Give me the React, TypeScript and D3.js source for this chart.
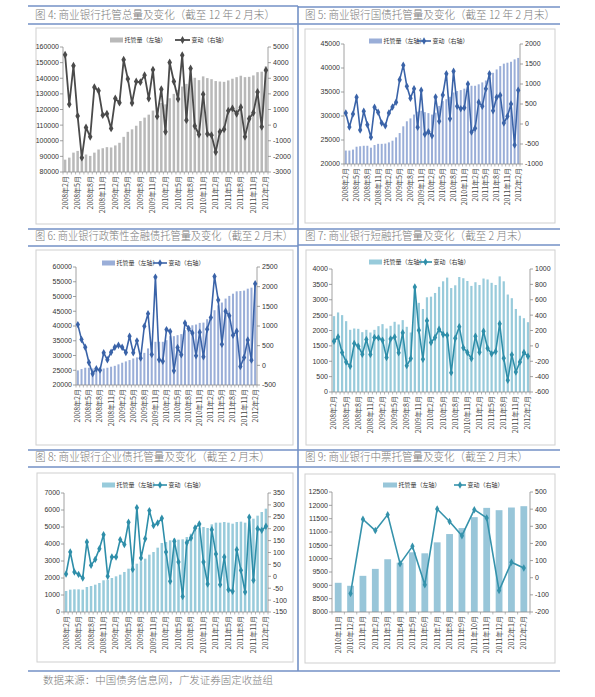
import React from 'react';
import * as d3 from 'd3';

const CJK = '"Noto Sans CJK SC", sans-serif';
const NUM = '"Liberation Sans", Arial, sans-serif';

// categories: monthly 2008-02 .. 2012-02
const monthCats: string[] = d3.range(49).map((i) => `${2008 + Math.floor((1 + i) / 12)}年${((1 + i) % 12) + 1}月`);
const zhongpiaoCats: string[] = [
  '2010年11月', '2010年12月', '2011年1月', '2011年2月', '2011年3月', '2011年4月', '2011年5月', '2011年6月',
  '2011年7月', '2011年8月', '2011年9月', '2011年10月', '2011年11月', '2011年12月', '2012年1月', '2012年2月',
];

// 图4 总量
const totalStock = [87900, 89200, 92400, 93500, 93200, 91200, 90300, 92400, 94400, 95200, 95900, 95700, 97000, 98700, 102500, 105700, 107300, 109600, 112600, 114800, 116700, 119300, 121200, 124200, 123300, 127200, 130000, 132600, 134700, 136400, 139400, 140300, 138800, 141200, 140100, 139400, 138200, 137900, 137700, 138600, 139700, 140700, 141600, 140700, 140900, 141800, 143900, 144200, 147600];
const totalChange = [4500, 1330, 3800, 580, -2080, -150, -750, 2420, 2200, 640, 730, -210, 1700, 1440, 4180, 2960, 1420, 2790, 2750, 3200, 1700, 3540, 560, 2300, -430, 4010, 2790, 1670, 4480, 320, 3630, -60, -600, 1970, -560, -640, -1720, -430, -260, 920, 1070, 730, 1140, -750, 410, 790, 2120, -110, 3520];

// 图5 国债
const govStock = [22800, 22800, 23000, 23600, 23700, 23800, 23800, 23400, 23950, 24200, 24200, 24250, 24500, 24850, 25550, 26450, 27850, 28900, 29500, 30300, 30900, 31100, 30800, 30600, 30300, 30700, 32100, 33100, 33500, 34000, 34900, 35200, 35400, 35700, 36000, 36300, 36300, 36600, 37000, 37400, 38200, 39000, 39700, 40400, 40900, 41100, 41300, 41800, 42100];
const govChange = [275, -75, 250, 667, -150, 317, -17, -333, 417, 292, 25, -42, 275, 425, 542, 1108, 1467, 942, 642, 883, -83, 842, -258, -192, -292, 675, 67, 725, 1258, 133, 1317, 442, 383, 408, 1000, -200, -108, 542, 442, 883, 1258, 333, 667, 717, 25, 192, 500, -525, 842];

// 图6 政策性金融债
const policyStock = [24950, 25400, 25850, 25850, 25600, 25600, 25600, 25600, 25850, 26200, 26500, 27000, 27550, 28000, 28450, 29000, 29350, 30150, 30900, 32400, 33500, 34650, 34650, 34650, 35200, 36550, 36550, 36900, 37250, 38600, 39700, 40250, 40500, 41050, 41150, 42300, 43400, 45350, 47000, 47950, 49300, 50200, 50950, 51750, 51850, 52000, 52650, 53000, 53800];
const policyChange = [1035, 655, 460, 73, -215, -88, -122, 318, 140, 335, 460, 512, 460, 326, 740, 318, 622, 183, 993, 1314, 275, 2243, 140, 106, 908, 858, -139, 452, 267, 1077, 934, 824, 242, 841, 216, 917, 1213, 2260, 1660, 537, 1373, 1263, 765, 866, -29, 199, 647, 132, 2074];

// 图7 短融
const cpStock = [2467, 2587, 2500, 2304, 2022, 2065, 2054, 1946, 2022, 1935, 2022, 2141, 2207, 2065, 2152, 2283, 2196, 2337, 2120, 1935, 3440, 2900, 2700, 3080, 3100, 3220, 3420, 3600, 3720, 3380, 3470, 3740, 3700, 3610, 3450, 3570, 3480, 3690, 3660, 3550, 3480, 3760, 3600, 3170, 3050, 2700, 2480, 2400, 2270];
const cpChange = [61, 117, -87, -209, -265, 30, -4, -109, 83, -113, 109, 104, 74, -152, 91, 117, -91, 170, -257, -165, 765, 204, -174, 326, 43, 109, 217, 148, 139, -348, 100, 248, -26, -87, -165, 126, -83, 191, -30, -104, -74, 287, -161, -448, -117, -339, -209, -87, -135];

// 图8 企业债
const corpStock = [1235, 1314, 1333, 1333, 1314, 1470, 1530, 1608, 1706, 1863, 1902, 2000, 2098, 2196, 2353, 2549, 2706, 2843, 2980, 3137, 3373, 3529, 3784, 4059, 4118, 4216, 4314, 4255, 4275, 4412, 4608, 4804, 4941, 5000, 4941, 5157, 5255, 5255, 5294, 5255, 5196, 5294, 5314, 5255, 5392, 5490, 5667, 5882, 6078];
const corpChange = [10, 102, 18, 8, -7, 144, 46, 71, 116, 175, 0, 81, 81, 154, 134, 227, 29, 288, 77, 158, 276, 213, 224, 244, 102, -21, 147, 60, -85, 141, 161, 203, 220, 60, -32, 196, 94, -35, 81, -56, -63, 112, 25, -66, 248, -17, 200, 193, 210];

// 图9 中票
const mtnStock = [9095, 8983, 9356, 9617, 9978, 9850, 10239, 10201, 10612, 10923, 11147, 11557, 11905, 11818, 11918, 11968];
const mtnChange: (number | null)[] = [null, -92, 341, 275, 368, 82, 183, -41, 401, 328, 245, 397, 349, -75, 90, 57];

type Cfg = {
  title: string; tx: number; ty: number; tlen: number;
  box: [number, number, number, number];
  plot: { l: number; r: number; t: number; b: number };
  cats: string[]; every: number;
  bars: number[]; line: (number | null)[];
  ld: [number, number]; ls: number; rd: [number, number]; rs: number;
  barColor: string; lineColor: string; lw: number;
  legY: number; sw: [number, number]; ln: [number, number]; pad: number; msize: number;
};

const cfgs: Cfg[] = [
  {
    title: '图 4:  商业银行托管总量及变化（截至 12 年 2 月末）', tx: 35, ty: 19, tlen: 240,
    box: [36, 28, 257, 196], plot: { l: 63, r: 268, t: 47, b: 172 }, cats: monthCats, every: 3,
    bars: totalStock, line: totalChange, ld: [80000, 160000], ls: 10000, rd: [-3000, 5000], rs: 1000,
    barColor: '#b9b9b9', lineColor: '#4a4a4a', lw: 1.8, legY: 40, sw: [110, 123], ln: [175, 190], pad: 0.4, msize: 18,
  },
  {
    title: '图 5:  商业银行国债托管量及变化（截至 12 年 2 月末）', tx: 305, ty: 19, tlen: 250,
    box: [305, 29, 250, 194], plot: { l: 344, r: 520, t: 44, b: 164 }, cats: monthCats, every: 3,
    bars: govStock, line: govChange, ld: [20000, 45000], ls: 5000, rd: [-1000, 2000], rs: 500,
    barColor: '#9aaed8', lineColor: '#3a63a8', lw: 1.6, legY: 41, sw: [369, 382], ln: [417, 431], pad: 0.45, msize: 16,
  },
  {
    title: '图 6:  商业银行政策性金融债托管量及变化（截至 2 月末）', tx: 35, ty: 240, tlen: 258,
    box: [36, 250, 257, 195], plot: { l: 76, r: 257, t: 267, b: 385 }, cats: monthCats, every: 3,
    bars: policyStock, line: policyChange, ld: [20000, 60000], ls: 5000, rd: [-500, 2500], rs: 500,
    barColor: '#9aaed8', lineColor: '#3a63a8', lw: 1.6, legY: 263, sw: [102, 115], ln: [153, 167], pad: 0.45, msize: 16,
  },
  {
    title: '图 7:  商业银行短融托管量及变化（截至 2 月末）', tx: 305, ty: 240, tlen: 223,
    box: [306, 250, 249, 195], plot: { l: 332, r: 530, t: 269, b: 392 }, cats: monthCats, every: 3,
    bars: cpStock, line: cpChange, ld: [0, 4000], ls: 500, rd: [-600, 1000], rs: 200,
    barColor: '#98cbdb', lineColor: '#2e8ea9', lw: 1.6, legY: 262, sw: [369, 382], ln: [419, 432], pad: 0.45, msize: 16,
  },
  {
    title: '图 8:  商业银行企业债托管量及变化（截至 2 月末）', tx: 35, ty: 461, tlen: 235,
    box: [37, 473, 256, 189], plot: { l: 64, r: 268, t: 493, b: 612 }, cats: monthCats, every: 3,
    bars: corpStock, line: corpChange, ld: [0, 7000], ls: 1000, rd: [-150, 350], rs: 50,
    barColor: '#98cbdb', lineColor: '#2e8ea9', lw: 1.6, legY: 485, sw: [102, 115], ln: [153, 167], pad: 0.4, msize: 16,
  },
  {
    title: '图 9:  商业银行中票托管量及变化（截至 2 月末）', tx: 305, ty: 461, tlen: 223,
    box: [305, 474, 250, 189], plot: { l: 332, r: 530, t: 492, b: 612 }, cats: zhongpiaoCats, every: 1,
    bars: mtnStock, line: mtnChange, ld: [8000, 12500], ls: 500, rd: [-200, 500], rs: 100,
    barColor: '#98c6d9', lineColor: '#3592ab', lw: 1.6, legY: 485, sw: [383, 397], ln: [454, 466], pad: 0.45, msize: 16,
  },
];

const Panel: React.FC<{ c: Cfg }> = ({ c }) => {
  const { l, r, t, b } = c.plot;
  const x = d3.scaleBand<number>().domain(d3.range(c.bars.length)).range([l, r]).paddingInner(c.pad).paddingOuter(c.pad / 2);
  const step = x.step();
  const cx = (i: number) => (x(i) as number) + x.bandwidth() / 2;
  const yl = d3.scaleLinear().domain(c.ld).range([b, t]);
  const yr = d3.scaleLinear().domain(c.rd).range([b, t]);
  const lt = d3.range(c.ld[0], c.ld[1] + c.ls / 2, c.ls);
  const rt = d3.range(c.rd[0], c.rd[1] + c.rs / 2, c.rs);
  const lineGen = d3.line<number | null>().defined((d) => d != null).x((_, i) => cx(i)).y((d) => yr(d as number));
  const sym = d3.symbol().type(d3.symbolDiamond).size(c.msize)();
  const axisColor = '#8a8a8a';
  const labelIdx = d3.range(c.cats.length).filter((i) => i % c.every === 0);
  const bounds = d3.range(c.cats.length + 1).map((i) => l + (i * (r - l)) / c.cats.length);
  return (
    <g>
      <rect x={c.box[0]} y={c.box[1]} width={c.box[2]} height={c.box[3]} fill="#fff" stroke="#cfcfcf" strokeWidth={1} />
      <text x={c.tx} y={c.ty} fontFamily={CJK} fontWeight={300} fontSize={11.5} fill="#7a7a7a" textLength={c.tlen} lengthAdjust="spacingAndGlyphs">{c.title}</text>
      {/* bars */}
      {c.bars.map((v, i) => (
        <rect key={'b' + i} x={x(i)} y={yl(v)} width={x.bandwidth()} height={b - yl(v)} fill={c.barColor} />
      ))}
      {/* axes */}
      <line x1={l} x2={l} y1={t} y2={b} stroke={axisColor} strokeWidth={0.8} />
      <line x1={r} x2={r} y1={t} y2={b} stroke={axisColor} strokeWidth={0.8} />
      <line x1={l} x2={r} y1={b} y2={b} stroke={axisColor} strokeWidth={0.8} />
      {bounds.map((bx, i) => (
        <line key={'xt' + i} x1={bx} x2={bx} y1={b} y2={b + 2.5} stroke={axisColor} strokeWidth={0.6} />
      ))}
      {lt.map((v) => (
        <g key={'lt' + v}>
          <line x1={l - 3} x2={l} y1={yl(v)} y2={yl(v)} stroke={axisColor} strokeWidth={0.8} />
          <text x={l - 4} y={yl(v)} dy="0.35em" textAnchor="end" fontFamily={NUM} fontSize={7} fill="#333">{v}</text>
        </g>
      ))}
      {rt.map((v) => (
        <g key={'rt' + v}>
          <line x1={r} x2={r + 3} y1={yr(v)} y2={yr(v)} stroke={axisColor} strokeWidth={0.8} />
          <text x={r + 5} y={yr(v)} dy="0.35em" textAnchor="start" fontFamily={NUM} fontSize={7} fill="#333">{v}</text>
        </g>
      ))}
      {labelIdx.map((i) => (
        <text key={'xl' + i} transform={`translate(${cx(i)},${b + 4}) rotate(-90)`} dy="0.35em" textAnchor="end" fontFamily={CJK} fontSize={7} fill="#444">{c.cats[i]}</text>
      ))}
      {/* line */}
      <path d={lineGen(c.line) || ''} fill="none" stroke={c.lineColor} strokeWidth={c.lw} strokeLinejoin="round" />
      {c.line.map((v, i) => (v == null ? null : <path key={'m' + i} d={sym || ''} transform={`translate(${cx(i)},${yr(v)})`} fill={c.lineColor} />))}
      {/* legend */}
      <rect x={c.sw[0]} y={c.legY - 2.5} width={c.sw[1] - c.sw[0]} height={5} fill={c.barColor} />
      <text x={c.sw[1] + 1.5} y={c.legY} dy="0.35em" fontFamily={CJK} fontSize={6} fill="#333">托管量（左轴）</text>
      <line x1={c.ln[0]} x2={c.ln[1]} y1={c.legY} y2={c.legY} stroke={c.lineColor} strokeWidth={c.lw} />
      <path d={sym || ''} transform={`translate(${(c.ln[0] + c.ln[1]) / 2},${c.legY})`} fill={c.lineColor} />
      <text x={c.ln[1] + 1.5} y={c.legY} dy="0.35em" fontFamily={CJK} fontSize={6} fill="#333">变动（右轴）</text>
      {step < 0 ? null : null}
    </g>
  );
};

const frameColor = '#7391c6';

export default function App() {
  return (
    <div style={{ position: 'absolute', left: 0, top: 0 }}>
      <svg width={595} height={697} style={{ display: 'block', background: '#fff' }}>
        {/* frame lines */}
        {[6, 24, 229, 246, 450, 467, 671].map((y) => (
          <line key={'fl' + y} x1={28} x2={298} y1={y} y2={y} stroke={frameColor} strokeWidth={1.6} />
        ))}
        {[7, 24, 229, 245, 450, 467, 671].map((y) => (
          <line key={'fr' + y} x1={298} x2={560} y1={y} y2={y} stroke={frameColor} strokeWidth={1.6} />
        ))}
        <line x1={298} x2={298} y1={6} y2={671} stroke={frameColor} strokeWidth={1.6} />
        {cfgs.map((c, i) => (
          <Panel key={i} c={c} />
        ))}
        <text x={43} y={684} fontFamily={CJK} fontWeight={300} fontSize={10.5} fill="#7a7a7a" textLength={230} lengthAdjust="spacingAndGlyphs">数据来源：中国债务信息网，广发证券固定收益组</text>
      </svg>
    </div>
  );
}
